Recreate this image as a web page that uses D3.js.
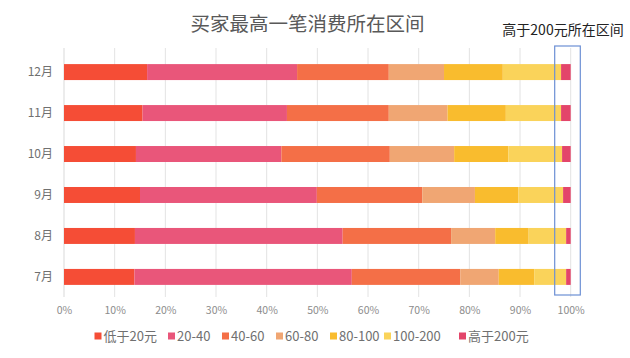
<!DOCTYPE html>
<html><head><meta charset="utf-8">
<script src="https://cdn.jsdelivr.net/npm/d3@7"></script>
<style>body{margin:0;background:#fff;} svg{display:block;font-family:"Noto Sans CJK SC","Noto Sans",sans-serif;}</style>
</head><body>
<svg id="c" width="630" height="358"></svg>
<script>
const months = ["12月","11月","10月","9月","8月","7月"];
const seriesNames = ["低于20元","20-40","40-60","60-80","80-100","100-200","高于200元"];
const colors = ["#F54D36","#E9567A","#F46F47","#F0A673","#F9BC2E","#FAD35A","#E3456A"];
const s_lt20   = [16.4, 15.5, 14.2, 15.0, 14.0, 13.9];
const s_20_40  = [29.6, 28.5, 28.7, 34.9, 41.0, 42.9];
const s_40_60  = [18.1, 20.1, 21.4, 20.8, 21.4, 21.4];
const s_60_80  = [10.9, 11.6, 12.7, 10.4, 8.7, 7.6];
const s_80_100 = [11.6, 11.5, 10.7, 8.6, 6.6, 7.0];
const s_100_200= [11.5, 10.9, 10.6, 8.8, 7.4, 6.3];
const s_gt200  = [1.9, 1.9, 1.7, 1.5, 0.9, 0.9];
const xTicks = [0,10,20,30,40,50,60,70,80,90,100];
const title = "买家最高一笔消费所在区间";
const note = "高于200元所在区间";

const seriesVals = [s_lt20,s_20_40,s_40_60,s_60_80,s_80_100,s_100_200,s_gt200];
const rows = months.map((m,i)=>{const r={month:m}; seriesNames.forEach((s,j)=>{r[s]=seriesVals[j][i];}); return r;});
rows.forEach(r=>{const t=d3.sum(seriesNames,s=>r[s]); seriesNames.forEach(s=>r[s]=r[s]*100/t);});

const svg = d3.select("#c");
const x = d3.scaleLinear().domain([0,100]).range([64,570.7]);
const y = d3.scaleBand().domain(months).range([51.6,297.4]).paddingInner(0.61).paddingOuter(0.305);

svg.append("g").selectAll("line").data(xTicks.slice(1)).join("line")
  .attr("x1",d=>x(d)).attr("x2",d=>x(d)).attr("y1",48).attr("y2",297)
  .attr("stroke","#e3e3e3").attr("stroke-width",1);
svg.append("line").attr("x1",x(0)).attr("x2",x(0)).attr("y1",48).attr("y2",297).attr("stroke","#d9d9d9");

const stack = d3.stack().keys(seriesNames)(rows);
svg.append("g").selectAll("g").data(stack).join("g").attr("fill",(d,i)=>colors[i])
  .selectAll("rect").data(d=>d).join("rect")
  .attr("x",d=>x(d[0])).attr("width",d=>x(d[1])-x(d[0]))
  .attr("y",d=>y(d.data.month)).attr("height",y.bandwidth());

const xa = svg.append("g").attr("transform","translate(0,297)")
  .call(d3.axisBottom(x).tickValues(xTicks).tickFormat(d=>d+"%").tickSize(0).tickPadding(10));
xa.select(".domain").remove();
xa.selectAll("text").attr("fill","#8c8c8c").style("font-size","10.5px").style("font-family","'Noto Sans CJK SC',sans-serif");

const ya = svg.append("g").attr("transform","translate(64,0)")
  .call(d3.axisLeft(y).tickSize(0).tickPadding(11));
ya.select(".domain").remove();
ya.selectAll("text").attr("fill","#707070").style("font-size","12px").style("font-family","'Noto Sans CJK SC',sans-serif");

svg.append("text").attr("x",307.5).attr("y",31).attr("text-anchor","middle")
  .attr("fill","#595959").style("font-size","19.5px").text(title);
svg.append("text").attr("x",563).attr("y",35).attr("text-anchor","middle")
  .attr("fill","#222").style("font-size","14px").text(note);
svg.append("rect").attr("x",554.7).attr("y",46).attr("width",25.6).attr("height",249)
  .attr("fill","none").attr("stroke","#6c8fd4").attr("stroke-width",1.2);

const legX = [94.5,168,222,276,330,384,459];
const lg = svg.append("g").selectAll("g").data(seriesNames).join("g")
  .attr("transform",(d,i)=>`translate(${legX[i]},336)`);
lg.append("rect").attr("x",0).attr("y",-3.5).attr("width",7).attr("height",7).attr("fill",(d,i)=>colors[i]);
lg.append("text").attr("x",9).attr("y",0).attr("dy","0.36em").attr("fill","#707070")
  .style("font-size","13px").text(d=>d);
</script>
</body></html>
